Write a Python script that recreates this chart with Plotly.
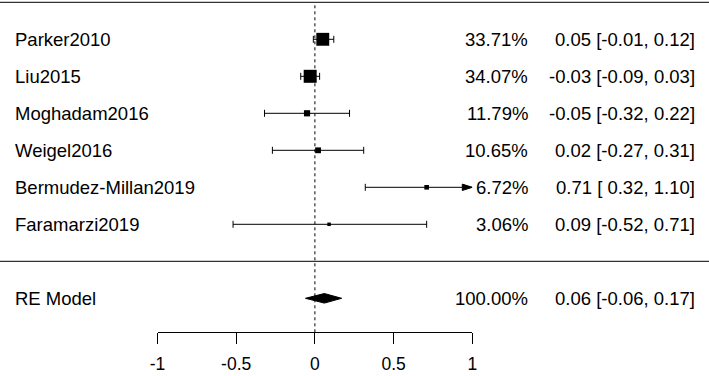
import plotly.graph_objects as go

# ---------------- data ----------------
studies = ["Parker2010", "Liu2015", "Moghadam2016", "Weigel2016",
           "Bermudez-Millan2019", "Faramarzi2019"]
estimates = [0.05, -0.03, -0.05, 0.02, 0.71, 0.09]
lower = [-0.01, -0.09, -0.32, -0.27, 0.32, -0.52]
upper = [0.12, 0.03, 0.22, 0.31, 1.10, 0.71]
weights = [33.71, 34.07, 11.79, 10.65, 6.72, 3.06]

model_label = "RE Model"
model_est = 0.06
model_lower = -0.06
model_upper = 0.17
model_weight = 100.00

tick_vals = [-1, -0.5, 0, 0.5, 1]
tick_labels = ["-1", "-0.5", "0", "0.5", "1"]

# ---------------- layout helpers ----------------
W, H = 709, 376
FONT = dict(family="Liberation Sans, Arial, sans-serif", size=18.5, color="black")
TICKFONT = dict(family="Liberation Sans, Arial, sans-serif", size=17.5, color="black")
k = len(studies)
rows = [k - i for i in range(k)]          # 6 .. 1
model_row = -1
xmin, xmax = min(tick_vals), max(tick_vals)

row_px = 37.0                               # px per row
top_px = 39.3                               # y pixel of the first row
y_top = rows[0] + top_px / row_px
y_bot = rows[0] - (H - top_px) / row_px
axis_px = 332.3
axis_row = rows[0] - (axis_px - top_px) / row_px

fig = go.Figure()

# CI lines (clipped to axis limits)
lx, ly = [], []
for r, lo, hi in zip(rows, lower, upper):
    lx += [max(lo, xmin), min(hi, xmax), None]
    ly += [r, r, None]
fig.add_trace(go.Scatter(x=lx, y=ly, mode="lines",
                         line=dict(color="black", width=1), hoverinfo="skip"))

# end caps
cx, cy = [], []
for r, lo, hi in zip(rows, lower, upper):
    if lo >= xmin:
        cx.append(lo); cy.append(r)
    if hi <= xmax:
        cx.append(hi); cy.append(r)
fig.add_trace(go.Scatter(x=cx, y=cy, mode="markers",
                         marker=dict(symbol="line-ns", size=5, opacity=1,
                                     line=dict(color="black", width=1)),
                         hoverinfo="skip", cliponaxis=False))

# arrows for clipped CIs
arrow_len = 10 / ((472.3 - 157.5) / (xmax - xmin))
arrow_half = 3.2 / row_px
for r, hi in zip(rows, upper):
    if hi > xmax:
        fig.add_trace(go.Scatter(
            x=[xmax, xmax - arrow_len, xmax - arrow_len, xmax],
            y=[r, r + arrow_half, r - arrow_half, r],
            mode="lines", fill="toself", fillcolor="black",
            line=dict(color="black", width=1), hoverinfo="skip",
            cliponaxis=False))

# squares sized by weight
wmin, wmax = min(weights), max(weights)
sizes = [3.5 + (w - wmin) / (wmax - wmin) * 9.5 for w in weights]
fig.add_trace(go.Scatter(x=estimates, y=rows, mode="markers",
                         marker=dict(symbol="square", size=sizes, color="black",
                                     opacity=1, line=dict(width=0)),
                         hoverinfo="skip", cliponaxis=False))

# summary diamond
dh = 4.8 / row_px
fig.add_trace(go.Scatter(
    x=[model_lower, model_est, model_upper, model_est, model_lower],
    y=[model_row, model_row + dh, model_row, model_row - dh, model_row],
    mode="lines", fill="toself", fillcolor="black",
    line=dict(color="black", width=1), hoverinfo="skip", cliponaxis=False))

# ---------------- shapes ----------------
shapes = [
    dict(type="line", xref="paper", yref="y", x0=0, x1=1, y0=k + 1, y1=k + 1,
         line=dict(color="black", width=1)),
    dict(type="line", xref="paper", yref="y", x0=0, x1=1, y0=0, y1=0,
         line=dict(color="black", width=1)),
    dict(type="line", xref="x", yref="y", x0=0, x1=0, y0=axis_row, y1=k + 1,
         line=dict(color="black", width=1, dash="dot")),
]

# ---------------- text ----------------
ann = []
def add_row_text(r, label, wt, est, lo, hi):
    ann.append(dict(x=12.5 / W, y=r, xref="paper", yref="y", text=label,
                    xanchor="left", yanchor="middle", showarrow=False, font=FONT))
    ann.append(dict(x=530 / W, y=r, xref="paper", yref="y", text=f"{wt:.2f}%",
                    xanchor="right", yanchor="middle", showarrow=False, font=FONT))
    ann.append(dict(x=697 / W, y=r, xref="paper", yref="y",
                    text=f"{est:.2f} [{lo:5.2f}, {hi:.2f}]",
                    xanchor="right", yanchor="middle", showarrow=False, font=FONT))

for r, s, w, e, lo, hi in zip(rows, studies, weights, estimates, lower, upper):
    add_row_text(r, s, w, e, lo, hi)
add_row_text(model_row, model_label, model_weight, model_est, model_lower, model_upper)

fig.update_layout(
    width=W, height=H, margin=dict(l=0, r=0, t=0, b=0),
    paper_bgcolor="white", plot_bgcolor="white", showlegend=False,
    shapes=shapes, annotations=ann,
    xaxis=dict(domain=[157.5 / W, 472.3 / W], range=[xmin, xmax],
               anchor="free", position=(H - axis_px) / H,
               showline=True, linecolor="black", linewidth=1,
               ticks="outside", ticklen=11, tickwidth=1, tickcolor="black",
               tickvals=tick_vals, ticktext=tick_labels, tickfont=TICKFONT,
               ticklabelstandoff=5,
               showgrid=False, zeroline=False, automargin=False),
    yaxis=dict(range=[y_bot, y_top], visible=False, domain=[0, 1],
               showgrid=False, zeroline=False),
)

fig.write_html("out.html", config={"displayModeBar": False},
               post_script="document.body.style.margin='0';"
                           "document.body.style.padding='0';")
